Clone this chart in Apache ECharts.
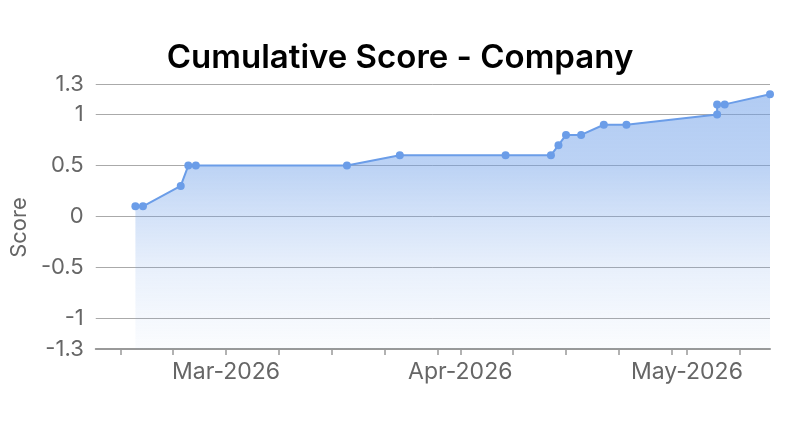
<!DOCTYPE html>
<html>
<head>
<meta charset="utf-8">
<script src="https://cdn.jsdelivr.net/npm/echarts@6/dist/echarts.min.js"></script>
<style>
    html, body { margin: 0; padding: 0; background: #fff; }
    #chart { width: 800px; height: 431px; }
</style>
</head>
<body>
<div id="chart"></div>
<script>
const dates = ['2026-02-17', '2026-02-18', '2026-02-23', '2026-02-24', '2026-02-25', '2026-03-17',
    '2026-03-24', '2026-04-07', '2026-04-13', '2026-04-14', '2026-04-15', '2026-04-17',
    '2026-04-20', '2026-04-23', '2026-05-05', '2026-05-05', '2026-05-06', '2026-05-12'];
const scores = [0.1, 0.1, 0.3, 0.5, 0.5, 0.5, 0.6, 0.6, 0.6, 0.7, 0.8, 0.8, 0.9, 0.9, 1.0, 1.1, 1.1, 1.2];

// month labels and the weekly ticks in between
const monthTicks = ['2026-03-01', '2026-04-01', '2026-05-01'];
const monthLabels = ['Mar-2026', 'Apr-2026', 'May-2026'];
const weekTicks = ['2026-02-15', '2026-02-22', '2026-03-08', '2026-03-15', '2026-03-22', '2026-03-29',
    '2026-04-08', '2026-04-15', '2026-04-22', '2026-04-29', '2026-05-08'];
const yTicks = [-1.3, -1, -0.5, 0, 0.5, 1, 1.3];

function toTime(s) {
    let p = s.split('-').map(Number);
    return new Date(p[0], p[1] - 1, p[2]).getTime();
}

const font = 'Inter, "Noto Sans", sans-serif';
const blue = '#6b9de8';

let chart = echarts.init(document.getElementById('chart'), null, { renderer: 'canvas' });

let monthTimes = monthTicks.map(toTime);
let allTicks = weekTicks.concat(monthTicks).map(toTime).sort((a, b) => a - b);

let option = {
    animation: false,
    title: {
        text: 'Cumulative Score - Company',
        left: 'center',
        top: 37,
        textStyle: { fontFamily: font, fontSize: 33, fontWeight: 600, color: '#000' }
    },
    grid: { left: 95, right: 30, top: 84, bottom: 82 },
    xAxis: {
        type: 'value',
        min: new Date(2026, 1, 11, 18).getTime(),
        max: toTime('2026-05-12'),
        axisLine: { onZero: false, lineStyle: { color: '#999', width: 2 } },
        axisTick: { show: true, length: 6, customValues: allTicks, lineStyle: { color: '#999', width: 1.5 } },
        axisLabel: {
            customValues: monthTimes,
            margin: 12,
            color: '#666',
            fontFamily: font,
            fontSize: 23,
            formatter: (v) => {
                let i = monthTimes.indexOf(v);
                return i >= 0 ? monthLabels[i] : '';
            }
        },
        splitLine: { show: false }
    },
    yAxis: {
        type: 'value',
        min: -1.3,
        max: 1.3,
        name: 'Score',
        nameLocation: 'middle',
        nameGap: 47,
        nameTextStyle: { color: '#666', fontFamily: font, fontSize: 22, padding: [0, 22, 0, 0] },
        axisLine: { show: false },
        axisTick: { show: false, customValues: yTicks },
        axisLabel: { customValues: yTicks, margin: 12, color: '#666', fontFamily: font, fontSize: 22 },
        splitLine: { show: true, lineStyle: { color: '#aaa', width: 1 } }
    },
    series: [
        {
            name: 'Score',
            type: 'line',
            data: dates.map((d, i) => [toTime(d), scores[i]]),
            symbol: 'circle',
            symbolSize: 8,
            showSymbol: true,
            lineStyle: { color: blue, width: 2 },
            itemStyle: { color: blue },
            areaStyle: {
                origin: 'start',
                color: new echarts.graphic.LinearGradient(0, 0, 0, 1, [
                    { offset: 0, color: 'rgba(107,157,232,0.75)' },
                    { offset: 0.28, color: 'rgba(107,157,232,0.65)' },
                    { offset: 0.48, color: 'rgba(107,157,232,0.42)' },
                    { offset: 0.68, color: 'rgba(107,157,232,0.22)' },
                    { offset: 0.88, color: 'rgba(107,157,232,0.1)' },
                    { offset: 1, color: 'rgba(107,157,232,0.04)' }
                ])
            }
        }
    ]
};

chart.setOption(option);
</script>
</body>
</html>
